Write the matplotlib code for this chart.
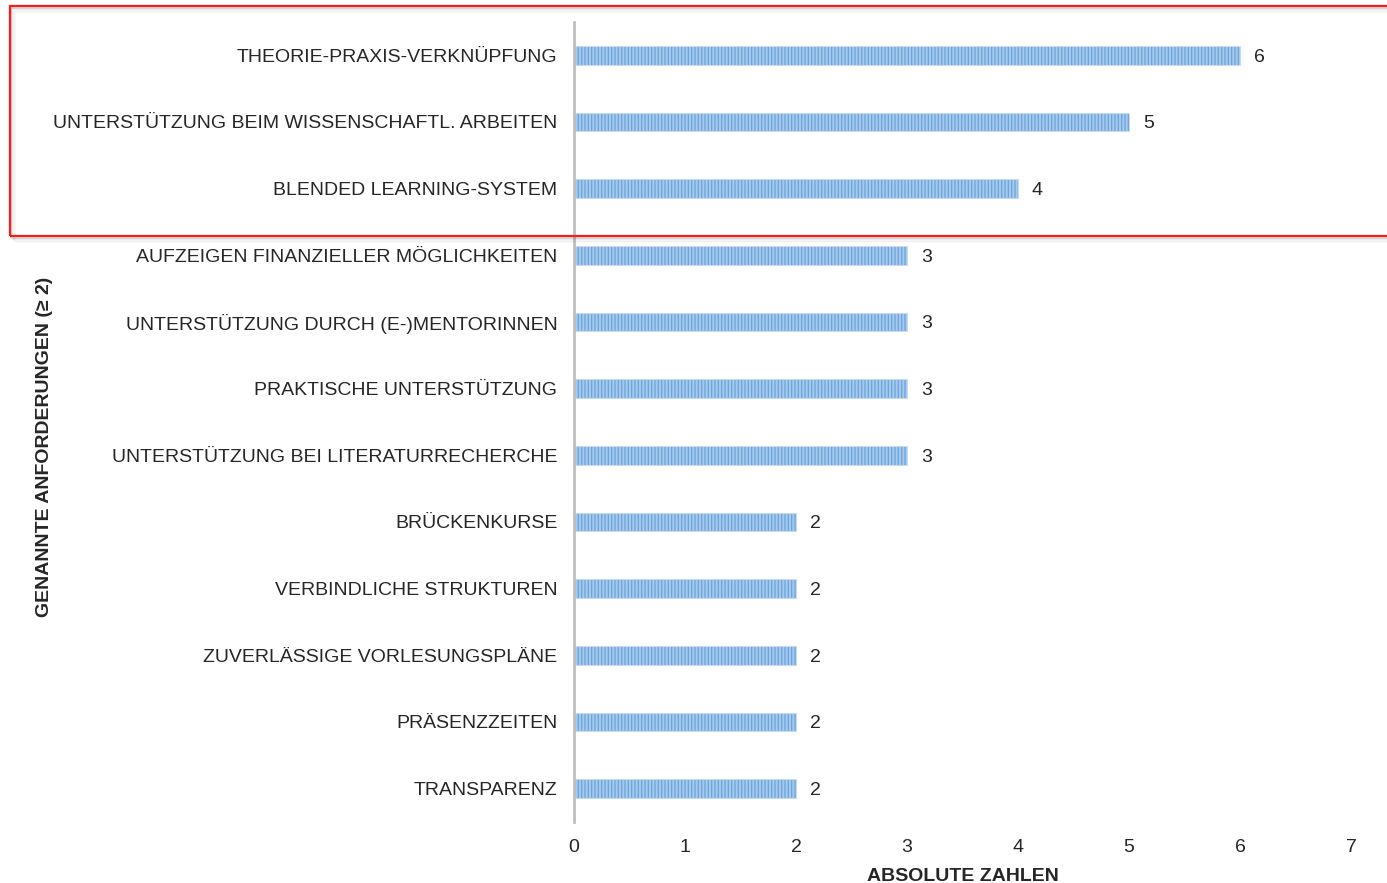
import matplotlib
matplotlib.use("Agg")
import matplotlib.pyplot as plt
from matplotlib.patches import Rectangle

categories = [
    "THEORIE-PRAXIS-VERKNÜPFUNG",
    "UNTERSTÜTZUNG BEIM WISSENSCHAFTL. ARBEITEN",
    "BLENDED LEARNING-SYSTEM",
    "AUFZEIGEN FINANZIELLER MÖGLICHKEITEN",
    "UNTERSTÜTZUNG DURCH (E-)MENTORINNEN",
    "PRAKTISCHE UNTERSTÜTZUNG",
    "UNTERSTÜTZUNG BEI LITERATURRECHERCHE",
    "BRÜCKENKURSE",
    "VERBINDLICHE STRUKTUREN",
    "ZUVERLÄSSIGE VORLESUNGSPLÄNE",
    "PRÄSENZZEITEN",
    "TRANSPARENZ",
]
values = [6, 5, 4, 3, 3, 3, 3, 2, 2, 2, 2, 2]
xticks = [0, 1, 2, 3, 4, 5, 6, 7]

plt.rcParams['font.family'] = ['Liberation Sans', 'DejaVu Sans']
plt.rcParams['hatch.linewidth'] = 0.9

fig = plt.figure(figsize=(13.87, 8.83), dpi=100)
ax = fig.add_axes([574/1387, 1-822/883, (1351-574)/1387, 800/883])

ypos = list(range(len(categories)))
ax.barh(ypos, values, height=0.28, color='#a6caee', edgecolor='#6aa4da',
        linewidth=0, hatch='|||||')
ax.barh(ypos, values, height=0.28, fill=False, edgecolor='#c6dbf1', linewidth=0.8)

for y, v in zip(ypos, values):
    ax.annotate(str(v), (v, y), xytext=(10, 0), textcoords='offset points',
                va='center_baseline', ha='left', fontsize=14, color='#262626')

ax.set_ylim(len(categories) - 0.5, -0.5)
ax.set_xlim(0, 7)
ax.set_xticks(xticks)
ax.set_xticklabels([str(t) for t in xticks])
ax.set_yticks(ypos)
ax.set_yticklabels(categories)
ax.tick_params(axis='both', length=0, labelsize=14, labelcolor='#262626')
ax.tick_params(axis='y', pad=12)
ax.tick_params(axis='x', pad=12)
for s in ['top', 'right', 'bottom']:
    ax.spines[s].set_visible(False)
ax.spines['left'].set_color('#bfbfbf')
ax.spines['left'].set_linewidth(2)

ax.set_xlabel("ABSOLUTE ZAHLEN", fontsize=14, fontweight='bold', color='#262626', labelpad=9)
fig.text(45/1387, 1-447/883, "GENANNTE ANFORDERUNGEN (≥ 2)", rotation=90,
         ha='center', va='center', fontsize=14, fontweight='bold', color='#262626')

# highlight box with shadow
x0, y0 = 10/1387, 1-236/883
w, h = 1.02 - x0, (236-6)/883
for i, a in enumerate([0.10, 0.07, 0.04, 0.02]):
    off = (i + 1) * 1.5 / 883
    fig.patches.append(Rectangle((x0 + off*0.5, y0 - off), w, h, transform=fig.transFigure,
                                 fill=False, edgecolor='black', alpha=a, linewidth=1.5))
fig.patches.append(Rectangle((x0, y0), w, h, transform=fig.transFigure,
                             fill=False, edgecolor='#ff1a1a', linewidth=1.6))

fig.savefig("out.png", dpi=100)
